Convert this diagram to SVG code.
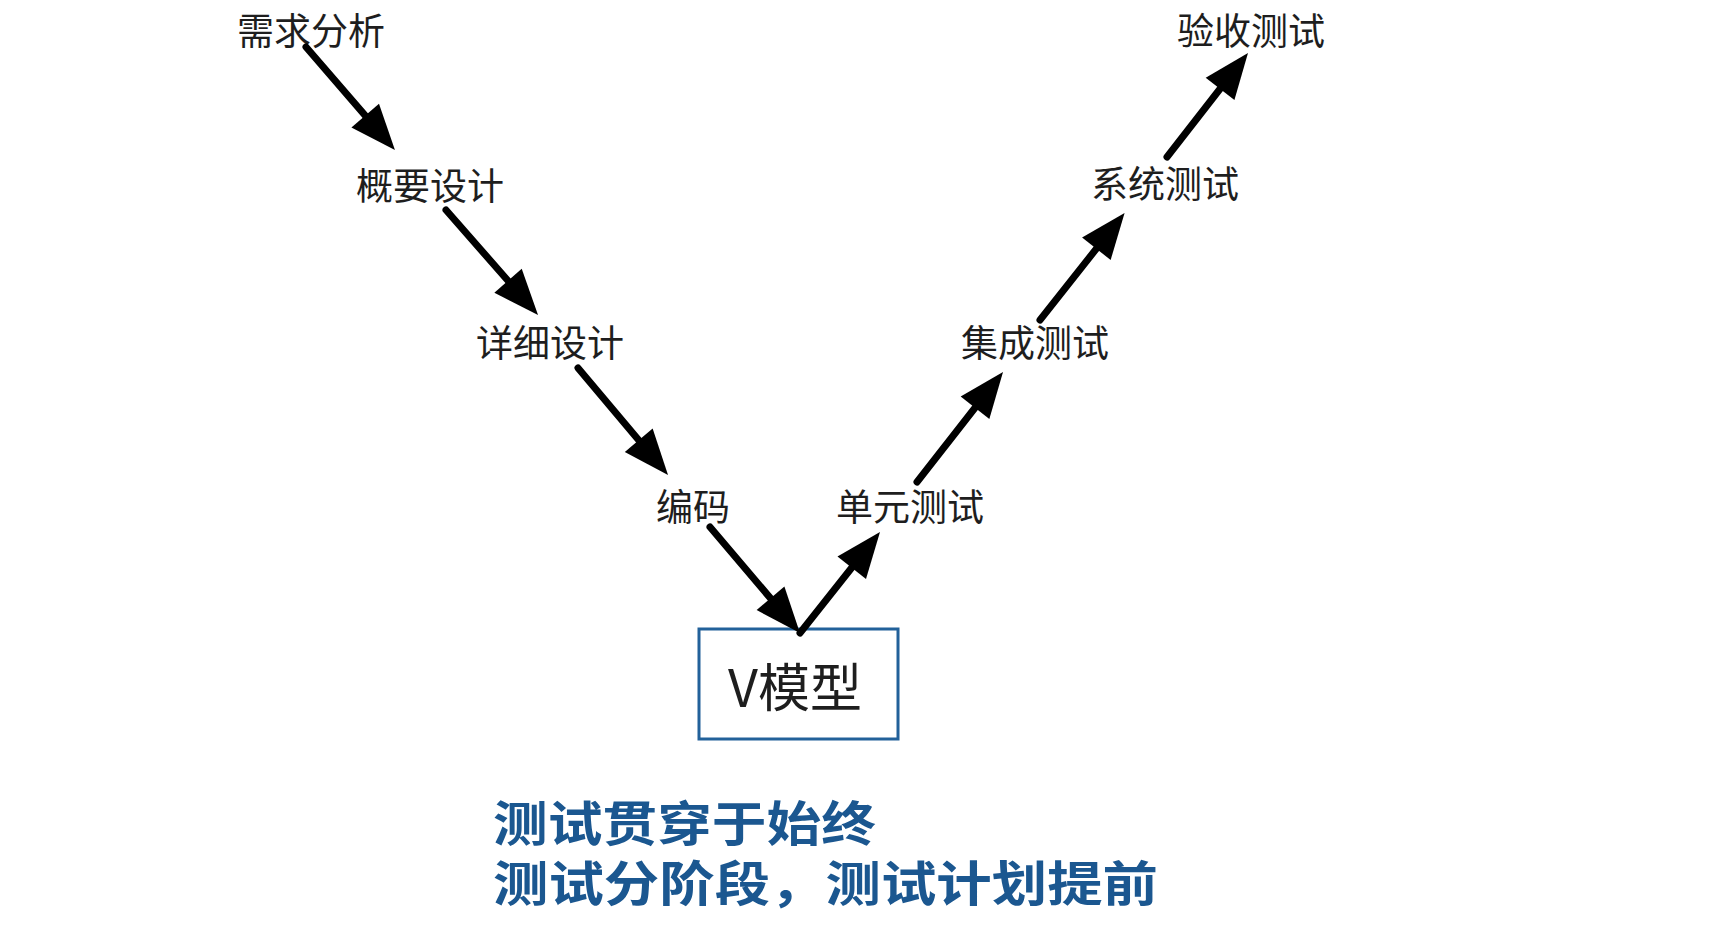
<svg xmlns="http://www.w3.org/2000/svg" width="1712" height="934" viewBox="0 0 1712 934">
<style>
.lbl{font-family:"Noto Sans CJK SC","Noto Sans",sans-serif;font-size:37px;fill:#1e1e1e}
.title{font-family:"Noto Sans CJK SC","Noto Sans",sans-serif;font-size:52px;fill:#1e1e1e}
.note{font-family:"Noto Sans CJK SC","Noto Sans",sans-serif;font-size:48px;font-weight:bold;fill:#1b5790}
.conn line{stroke:#000;stroke-width:7;stroke-linecap:round;marker-end:url(#ah)}
</style>
<defs>
<marker id="ah" markerUnits="strokeWidth" markerWidth="7" markerHeight="6" refX="4.5" refY="2.6" orient="auto" overflow="visible">
<path d="M0,0 L6.5,2.6 L0,5.2 z" fill="#000"/>
</marker>
</defs>
<rect width="1712" height="934" fill="#fff"/>
<g id="n-req"><text class="lbl" x="237" y="45">需求分析</text></g>
<g id="n-hld"><text class="lbl" x="356" y="200">概要设计</text></g>
<g id="n-lld"><text class="lbl" x="476" y="357">详细设计</text></g>
<g id="n-code"><text class="lbl" x="656" y="521">编码</text></g>
<g id="n-unit"><text class="lbl" x="836" y="521">单元测试</text></g>
<g id="n-int"><text class="lbl" x="961" y="357">集成测试</text></g>
<g id="n-sys"><text class="lbl" x="1091" y="198">系统测试</text></g>
<g id="n-acc"><text class="lbl" x="1177" y="45">验收测试</text></g>
<g id="n-v">
<rect x="699" y="629" width="199" height="110" fill="#fff" stroke="#22619a" stroke-width="3"/>
<text class="title" x="795" y="707" text-anchor="middle">V模型</text>
</g>
<g id="note">
<text class="note" x="493" y="841" textLength="383" lengthAdjust="spacingAndGlyphs">测试贯穿于始终</text>
<text class="note" x="493" y="901" textLength="665" lengthAdjust="spacingAndGlyphs">测试分阶段，测试计划提前</text>
</g>
<g class="conn" id="connectors">
<line x1="306" y1="47" x2="385.8" y2="139.4"/>
<line x1="446" y1="210" x2="528.8" y2="304.5"/>
<line x1="578" y1="368" x2="659" y2="464.3"/>
<line x1="710" y1="527" x2="790.9" y2="622.3"/>
<line x1="800" y1="633" x2="871.3" y2="543"/>
<line x1="917" y1="482" x2="994.4" y2="383"/>
<line x1="1040" y1="320" x2="1115.9" y2="224"/>
<line x1="1167" y1="157" x2="1239.4" y2="64"/>
</g>
</svg>
